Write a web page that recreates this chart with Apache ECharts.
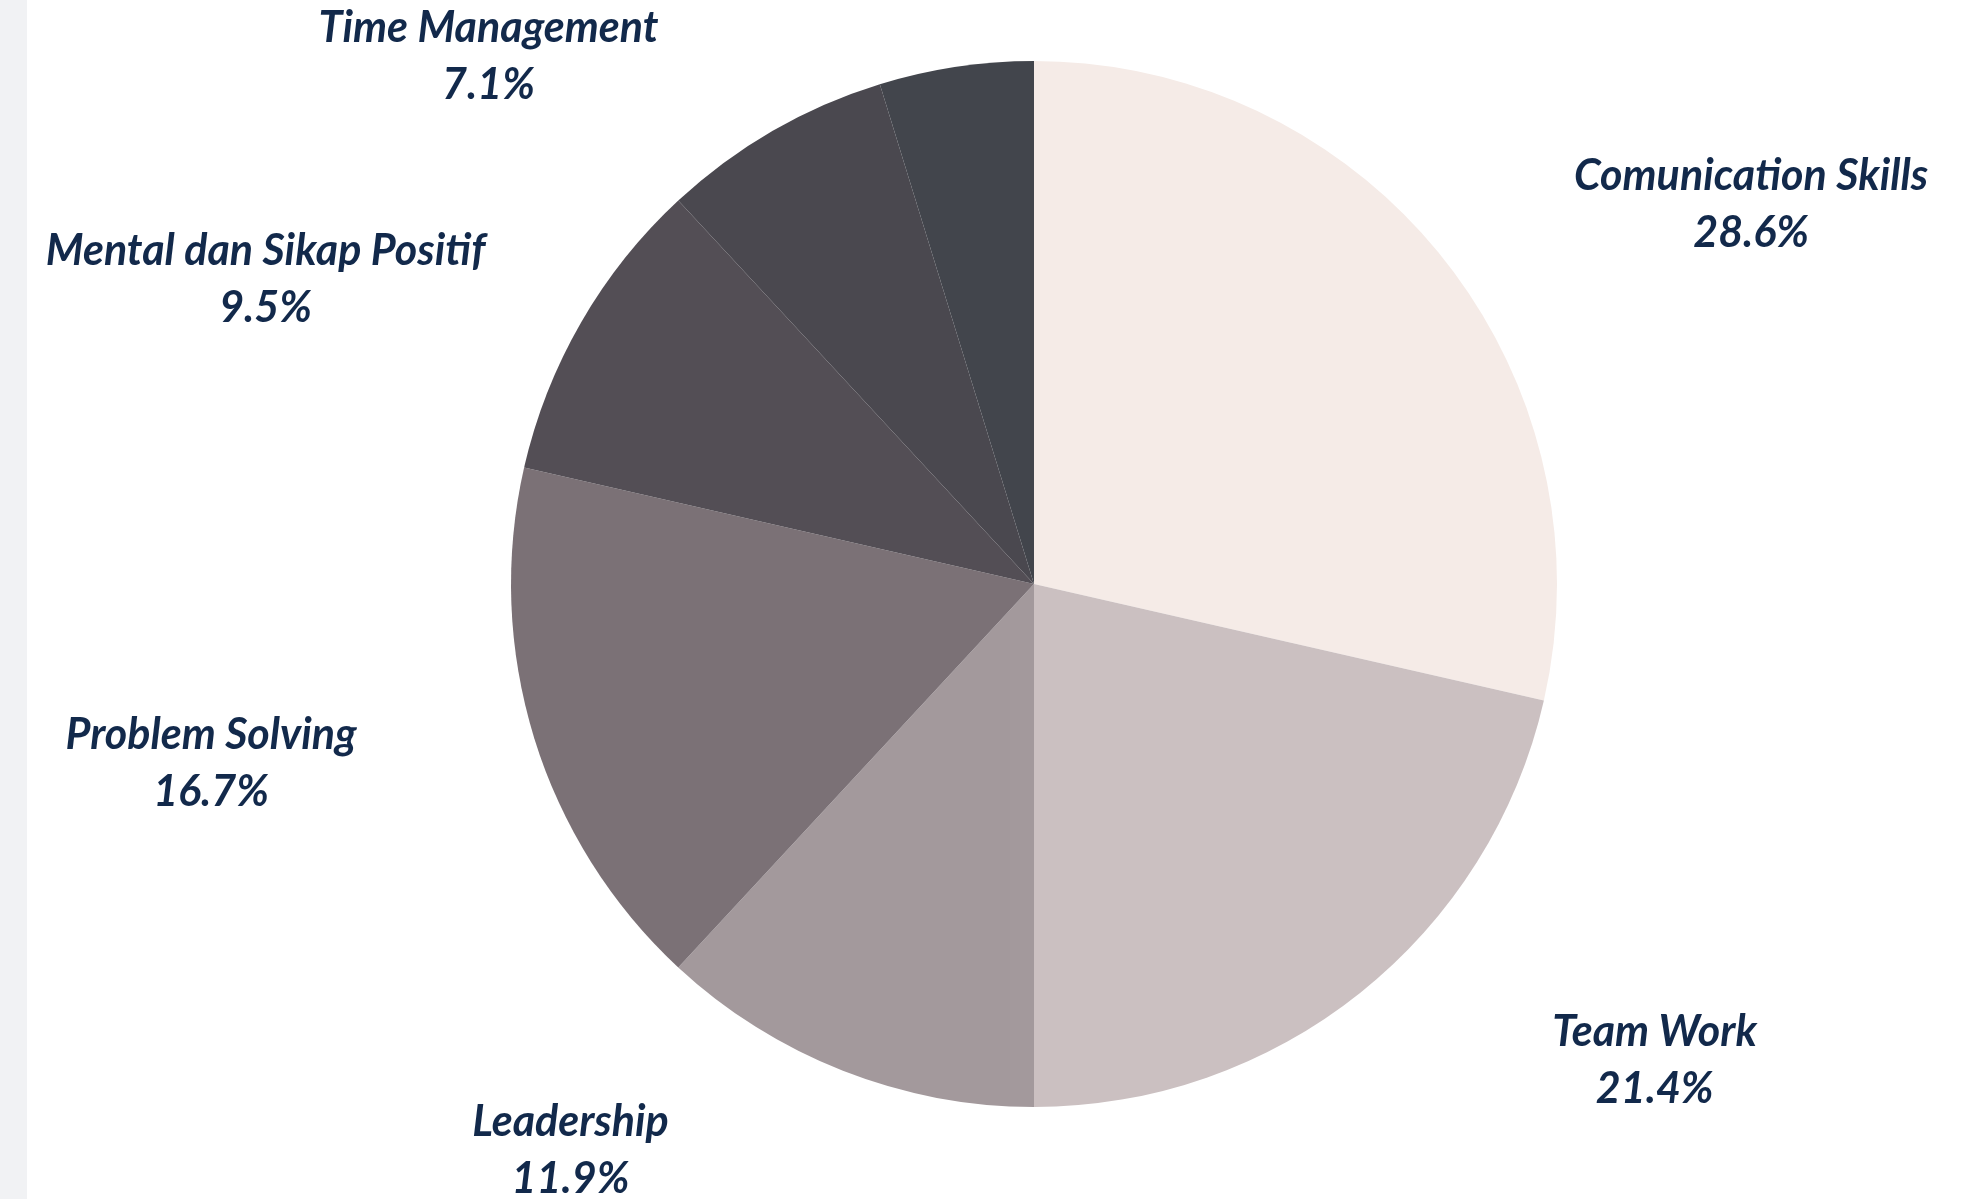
<!DOCTYPE html>
<html>
<head>
<meta charset="utf-8">
<title>Soft Skills</title>
<script src="https://cdn.jsdelivr.net/npm/echarts@6/dist/echarts.min.js"></script>
<style>
  html, body { margin: 0; padding: 0; background: #fff; }
  #strip { position: absolute; left: 0; top: 0; width: 27px; height: 1199px; background: #f1f2f4; }
  #chart { position: absolute; left: 0; top: 0; width: 1982px; height: 1199px; }
</style>
</head>
<body>
<div id="strip"></div>
<div id="chart"></div>
<script>
// data
const categories = ["Comunication Skills", "Team Work", "Leadership", "Problem Solving", "Mental dan Sikap Positif", "Time Management", "Lainnya"]
const values = [12, 9, 5, 7, 4, 3, 2]
const colors = ["#f5ebe7", "#cbc0c1", "#a3999c", "#7b7176", "#534e55", "#4a484f", "#42454c"]
// the last slice has no label in the picture
const hiddenLabels = ["Lainnya"]

const chart = echarts.init(document.getElementById("chart"))

const option = {
  animation: false,
  color: colors,
  series: [
    {
      type: "pie",
      center: [1034, 584],
      radius: 523,
      startAngle: 90,
      clockwise: true,
      percentPrecision: 1,
      avoidLabelOverlap: false,
      itemStyle: { borderWidth: 0 },
      label: {
        show: true,
        position: "outside",
        formatter: "{b}\n{d}%",
        color: "#12294b",
        fontFamily: "Lato",
        fontStyle: "italic",
        fontWeight: "bold",
        fontSize: 43,
        lineHeight: 57,
      },
      labelLine: { show: false, length: 86, length2: 236 },
      // text is centred on the end of the (hidden) label line
      labelLayout: () => ({ align: "center" }),
      emphasis: { disabled: true },
      data: categories.map((name, i) => ({
        name: name,
        value: values[i],
        label: hiddenLabels.includes(name) ? { show: false } : undefined,
      })),
    },
  ],
}

chart.setOption(option)
</script>
</body>
</html>
